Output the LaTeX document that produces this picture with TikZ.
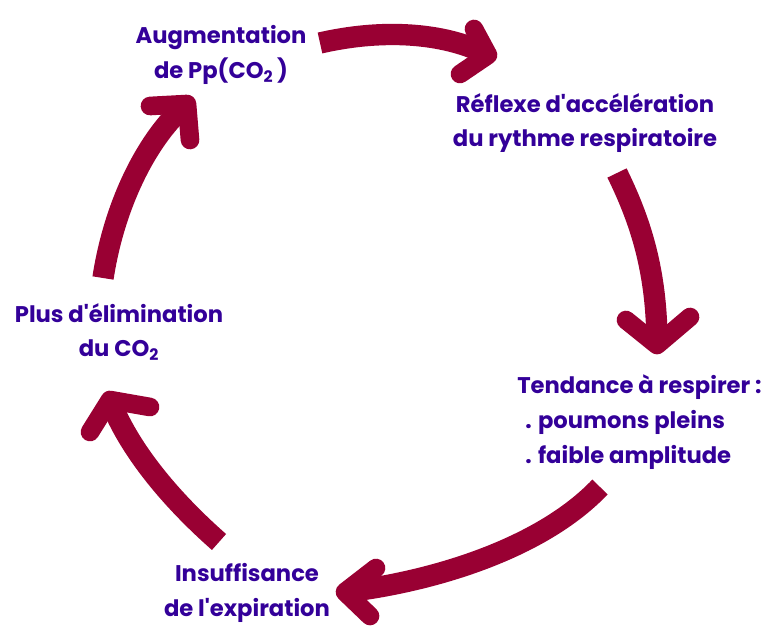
\documentclass[tikz,border=0pt]{standalone}
\usepackage{fontspec}
\setmainfont{Poppins}[Ligatures=TeXOff]
\definecolor{txt}{HTML}{330099}
\definecolor{arr}{HTML}{990033}
\tikzset{
  lbl/.style={text=txt, font=\bfseries\fontsize{17}{26}\selectfont, inner sep=0pt},
  shaft/.style={draw=arr, line width=16pt, line cap=butt},
  head/.style={draw=arr, line width=14pt, line cap=round, line join=round},
}
\begin{document}
\begin{tikzpicture}[x=0.75pt,y=-0.75pt]
\useasboundingbox (0,0) rectangle (774,631);
% labels
\node[lbl, align=center] (aug) at (221,55) {Augmentation\\de Pp(CO\textsubscript{2}\,)};
\node[lbl, align=center] (ref) at (585,123) {Réflexe d'accélération\\du rythme respiratoire};
\node[lbl, align=left, anchor=west] (ten) at (517,422) {Tendance à respirer :\\\hspace{6pt}. poumons pleins\\\hspace{6pt}. faible amplitude};
\node[lbl, align=center] (ins) at (247,593) {Insuffisance\\de l'expiration};
\node[lbl, align=center] (plu) at (119,332) {Plus d'élimination\\du CO\textsubscript{2}};
% arrow coordinates
\coordinate (s1) at (320,43);  \coordinate (t1) at (488,55);
\coordinate (a1) at (474,29);  \coordinate (b1) at (460,74);
\coordinate (s2) at (617,173); \coordinate (t2) at (657,345);
\coordinate (a2) at (626,320); \coordinate (b2) at (690,317);
\coordinate (s3) at (600,487); \coordinate (t3) at (345,592);
\coordinate (a3) at (376,568); \coordinate (b3) at (370,616);
\coordinate (s4) at (219,542); \coordinate (t4) at (110,400);
\coordinate (a4) at (90,432);  \coordinate (b4) at (150,407);
\coordinate (s5) at (103,278); \coordinate (t5) at (187,104);
\coordinate (a5) at (150,106); \coordinate (b5) at (190,140);
% shafts
\draw[shaft] (s1) .. controls (390,27) and (450,35) .. (t1);
\draw[shaft] (s2) .. controls (640,220) and (657,270) .. (t2);
\draw[shaft] (s3) .. controls (540,550) and (430,582) .. (t3);
\draw[shaft] (s4) .. controls (160,490) and (125,440) .. (t4);
\draw[shaft] (s5) .. controls (115,200) and (150,135) .. (t5);
% heads
\draw[head] (a1) -- (t1) -- (b1);
\draw[head] (a2) -- (t2) -- (b2);
\draw[head] (a3) -- (t3) -- (b3);
\draw[head] (a4) -- (t4) -- (b4);
\draw[head] (a5) -- (t5) -- (b5);
\end{tikzpicture}
\end{document}
